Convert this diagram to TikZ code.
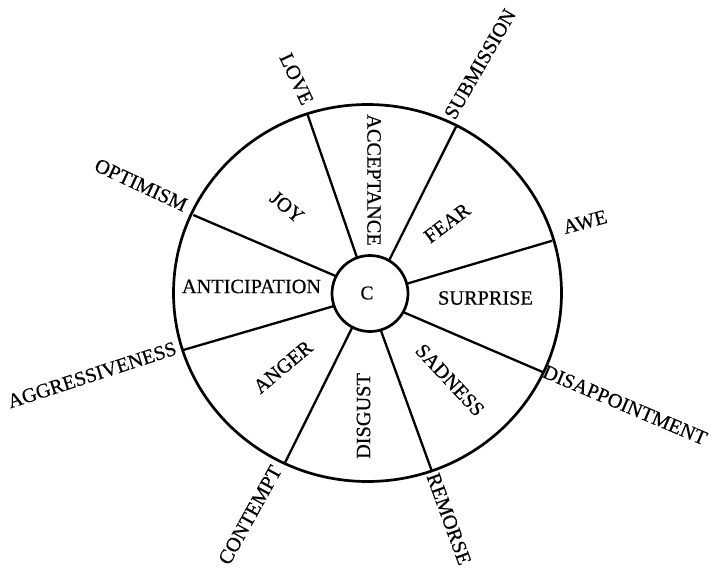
\documentclass[tikz,border=0pt]{standalone}
\usepackage{fontspec}
\setmainfont{Liberation Serif}[FakeBold=0.5]
\usetikzlibrary{shapes.geometric}
\begin{document}
\begin{tikzpicture}[x=1pt,y=-1pt,
  rim/.style={line width=2.7pt},
  spoke/.style={line width=2.3pt, shorten >=-5pt},
  lab/.style={font=\fontsize{20.3}{22}\selectfont, inner sep=0pt},
]
\useasboundingbox (0,0) rectangle (710,568);

% outer wheel
\node (wheel) [draw, rim, ellipse, minimum width=388pt, minimum height=377pt,
  inner sep=0pt, outer sep=0pt] at (367.5,293) {};

% spoke ends: outer rim and hub
\coordinate (o1) at (307.7,115);   \coordinate (i1) at (356.7,256.7);
\coordinate (o2) at (456,126.7);   \coordinate (i2) at (389.3,260);
\coordinate (o3) at (552.3,240.7); \coordinate (i3) at (408.3,283.3);
\coordinate (o4) at (543.3,372.3); \coordinate (i4) at (406,313.3);
\coordinate (o5) at (431.7,470.7); \coordinate (i5) at (381.7,332.7);
\coordinate (o6) at (285,462.7);   \coordinate (i6) at (351,330);
\coordinate (o7) at (183.3,350);   \coordinate (i7) at (331.7,306.7);
\coordinate (o8) at (193.3,215);   \coordinate (i8) at (333.3,275);

\foreach \k in {1,...,8} \draw[spoke] (o\k) -- (i\k);

% hub
\node (hub) [draw, rim, circle, fill=white, minimum size=76pt, inner sep=0pt]
  at (370,293.5) {};
\node (c) [lab, font=\fontsize{19.5}{21}\selectfont] at (367,293) {C};

% primary emotions
\node (joy)  [lab, rotate=-40] at (287,207) {JOY};
\node (acc)  [lab, rotate=-90] at (374,180) {ACCEPTANCE};
\node (fear) [lab, rotate=37]  at (447,223) {FEAR};
\node (sur)  [lab]             at (485.5,298) {SURPRISE};
\node (sad)  [lab, rotate=-47] at (450,380) {SADNESS};
\node (dis)  [lab, rotate=90]  at (363.5,416) {DISGUST};
\node (ang)  [lab, rotate=40]  at (283,367) {ANGER};
\node (ant)  [lab]             at (251.5,286.5) {ANTICIPATION};

% dyads
\node (love) [lab, rotate=-65] at (296.5,79) {LOVE};
\node (sub)  [lab, rotate=60]  at (480,64) {SUBMISSION};
\node (awe)  [lab, rotate=15]  at (585,222) {AWE};
\node (disa) [lab, rotate=-23] at (625,405) {DISAPPOINTMENT};
\node (rem)  [lab, rotate=-70] at (449,519) {REMORSE};
\node (con)  [lab, rotate=61]  at (250,515) {CONTEMPT};
\node (agg)  [lab, rotate=18]  at (92,375) {AGGRESSIVENESS};
\node (opt)  [lab, rotate=-25] at (141,185) {OPTIMISM};
\end{tikzpicture}
\end{document}
